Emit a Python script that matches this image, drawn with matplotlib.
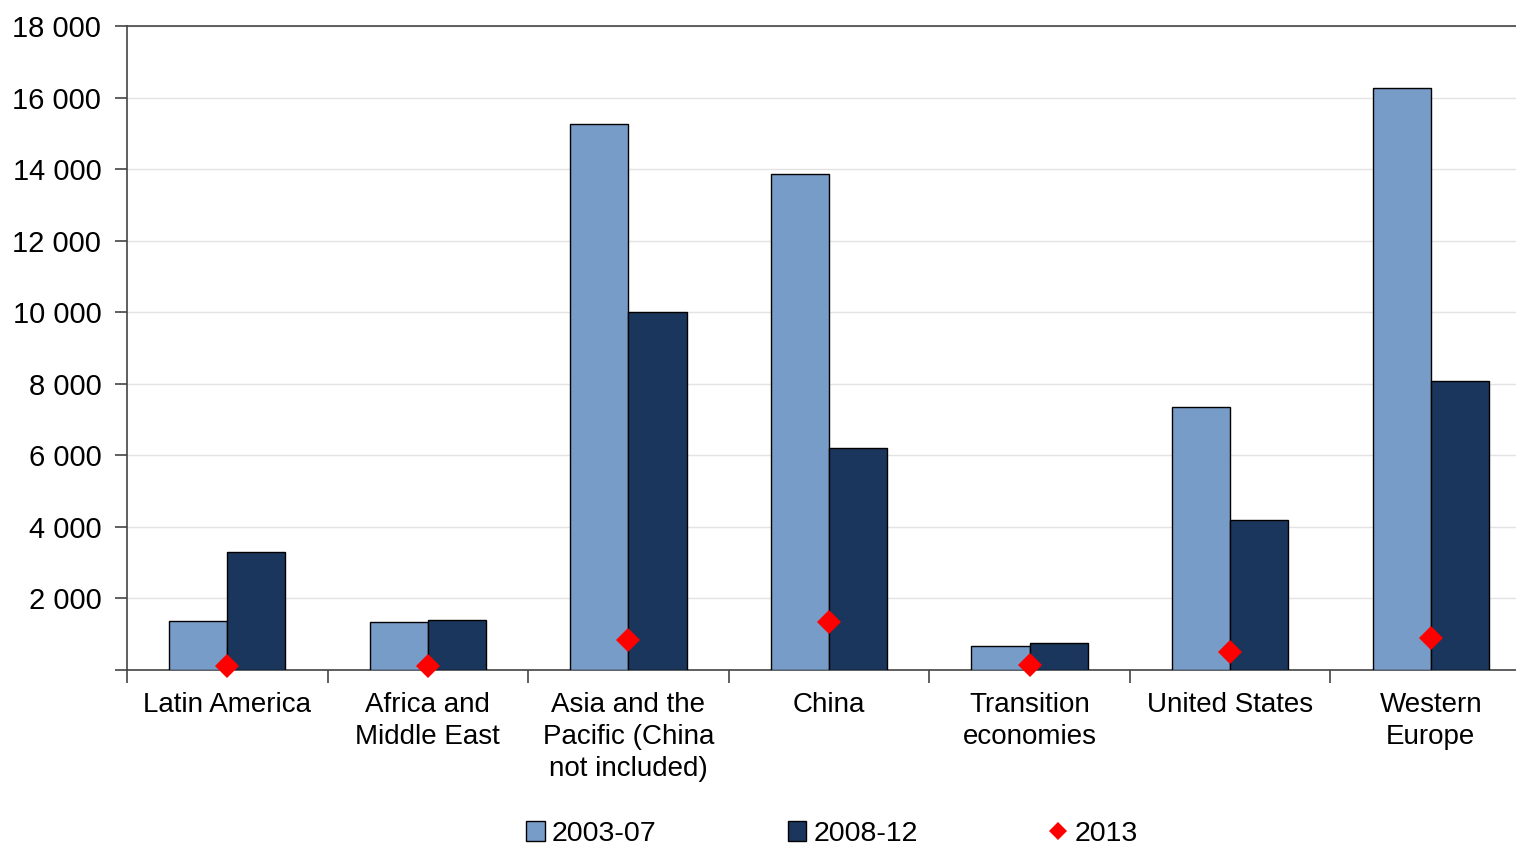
import numpy as np
import matplotlib.pyplot as plt
from matplotlib.ticker import FuncFormatter
from matplotlib.lines import Line2D
from matplotlib.patches import Patch

# data
categories = ["Latin America", "Africa and\nMiddle East", "Asia and the\nPacific (China\nnot included)",
              "China", "Transition\neconomies", "United States", "Western\nEurope"]
avg_2003_07 = [1370, 1340, 15260, 13860, 670, 7350, 16270]
avg_2008_12 = [3300, 1400, 10000, 6200, 750, 4190, 8080]
val_2013 = [110, 110, 840, 1340, 140, 500, 890]

light = "#779CC8"
dark = "#1A365C"

plt.rcParams['font.family'] = ['Liberation Sans', 'DejaVu Sans']

fig = plt.figure(figsize=(15.16, 8.47), dpi=100)
ax = fig.add_axes([127/1516, 1-670/847, (1531-127)/1516, (670-26)/847])

x = np.arange(len(categories))
w = 0.29
ax.bar(x - w/2, avg_2003_07, w, color=light, edgecolor="black", linewidth=1, zorder=3)
ax.bar(x + w/2, avg_2008_12, w, color=dark, edgecolor="black", linewidth=1, zorder=3)
ax.plot(x, val_2013, linestyle="none", marker="D", markersize=12, color="#FF0000",
        markeredgewidth=0, zorder=4, clip_on=False)

ax.set_xlim(-0.5, len(categories) - 0.5)
ax.set_ylim(0, 18000)
ax.set_yticks(range(0, 18001, 2000))
ax.yaxis.set_major_formatter(FuncFormatter(lambda v, p: "" if v == 0 else f"{int(v):,}".replace(",", " ")))
ax.grid(axis="y", color="#E3E3E3", linewidth=1, zorder=0)
ax.set_axisbelow(True)

ax.set_xticks(np.arange(len(categories) + 1) - 0.5)
ax.set_xticklabels([])
ax.set_xticks(x, minor=True)
ax.set_xticklabels(categories, minor=True, fontsize=20, linespacing=1.3)
ax.tick_params(axis="x", which="minor", length=0, pad=16)
ax.tick_params(axis="x", which="major", length=9, width=1.2, color="#444444")
ax.tick_params(axis="y", length=9, width=1.2, color="#444444", labelsize=21, pad=9.5)

for s in ["left", "bottom", "top"]:
    ax.spines[s].set_color("#444444")
    ax.spines[s].set_linewidth(1.2)
ax.spines["right"].set_visible(False)

handles = [Patch(facecolor=light, edgecolor="black", linewidth=1),
           Patch(facecolor=dark, edgecolor="black", linewidth=1),
           Line2D([], [], linestyle="none", marker="D", color="#FF0000", markersize=9, markeredgewidth=0)]
fig.legend(handles, ["2003-07", "2008-12", "2013"], loc="center", ncol=3,
           bbox_to_anchor=(832/1516, 1-834/847), frameon=False, fontsize=20.5,
           handlelength=0.65, handleheight=0.65, handletextpad=0.25, columnspacing=4.6)

fig.savefig("out.png", dpi=100)
